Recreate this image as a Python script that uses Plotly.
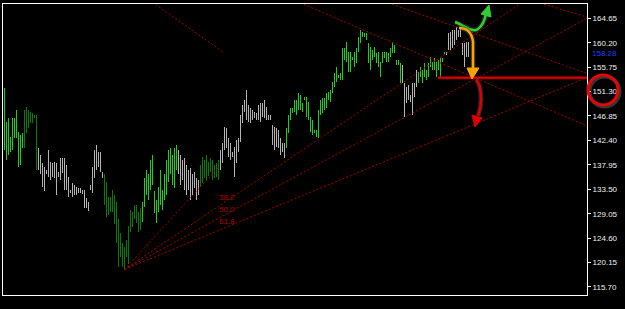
import plotly.graph_objects as go

# ---------------- data ----------------
bar_high = [
    152.0, 145.8, 146.5, 143.1, 146.5, 146.5, 148.0, 144.0, 143.4, 143.8,
    148.0, 148.5, 148.0, 147.6, 147.4, 147.1, 147.1, 141.1, 139.8, 138.3,
    137.6, 137.1, 140.7, 138.5, 138.3, 138.5, 138.3, 136.7, 139.2, 139.2,
    139.2, 138.0, 135.8, 133.4, 134.7, 134.3, 134.0, 133.8, 133.8, 133.4,
    133.4, 132.0, 131.1, 134.3, 137.6, 140.7, 141.6, 140.2, 140.2, 136.7,
    136.2, 134.9, 132.1, 132.1, 133.4, 132.5, 131.1, 128.0, 125.6, 123.8,
    123.0, 124.3, 126.9, 129.8, 129.4, 130.7, 130.7, 129.4, 130.1, 131.1,
    135.6, 137.1, 136.2, 138.9, 139.8, 133.1, 131.6, 134.0, 137.1, 133.4,
    136.2, 138.9, 140.7, 141.1, 139.8, 141.1, 141.6, 140.7, 139.8, 138.9,
    139.2, 138.0, 137.1, 137.4, 136.2, 136.7, 135.6, 135.2, 138.0, 139.4,
    138.9, 139.8, 138.5, 139.2, 138.9, 138.0, 138.3, 138.9, 140.7, 142.0,
    144.9, 144.7, 142.9, 142.0, 140.3, 141.2, 142.5, 142.9, 147.1, 148.9,
    149.8, 151.6, 148.9, 148.3, 148.0, 147.6, 147.4, 148.9, 149.3, 149.3,
    149.8, 148.5, 147.1, 147.1, 145.3, 144.9, 144.7, 144.3, 142.9, 142.0,
    142.0, 144.7, 147.1, 148.3, 148.3, 149.8, 149.8, 151.1, 150.7, 149.3,
    150.3, 150.3, 149.4, 146.7, 146.2, 144.3, 144.3, 148.0, 149.8, 150.2,
    150.2, 151.1, 151.3, 151.6, 153.1, 154.7, 155.8, 154.4, 154.7, 159.3,
    159.3, 160.4, 158.5, 158.5, 157.6, 158.5, 159.3, 161.3, 162.5, 162.2,
    162.0, 162.0, 160.2, 159.4, 158.9, 159.4, 158.4, 158.5, 156.7, 158.5,
    158.5, 158.5, 158.4, 159.3, 160.4, 159.8, 157.1, 157.1, 156.5, 156.2,
    152.9, 152.2, 152.5, 150.7, 152.9, 152.9, 155.3, 154.9, 155.8, 155.3,
    156.5, 155.3, 156.5, 157.6, 156.7, 157.4, 156.7, 157.1, 157.4, 157.4,
    158.5, 158.5, 162.0, 162.2, 162.5, 162.5, 163.1, 162.5, 162.9, 160.2,
    160.2, 160.4, 160.4,
]
bar_low = [
    140.7, 138.9, 139.8, 140.3, 140.7, 142.9, 142.9, 137.6, 138.0, 141.1,
    141.1, 143.8, 144.7, 145.6, 145.6, 146.5, 137.1, 137.1, 136.2, 134.0,
    133.1, 136.2, 135.8, 135.2, 135.8, 135.6, 132.5, 135.8, 135.2, 136.5,
    133.4, 133.4, 132.1, 132.9, 132.1, 132.5, 132.5, 132.9, 132.9, 132.7,
    130.1, 130.1, 129.6, 133.4, 132.9, 135.6, 137.1, 137.6, 136.7, 135.6,
    130.7, 128.5, 128.9, 129.4, 129.4, 127.1, 123.8, 119.4, 121.2, 119.4,
    118.9, 121.2, 119.8, 125.8, 126.7, 128.0, 127.4, 125.8, 126.1, 127.6,
    130.3, 132.5, 131.6, 133.4, 134.3, 129.2, 127.4, 129.4, 130.7, 129.8,
    131.6, 132.5, 134.9, 136.2, 134.3, 133.8, 137.1, 136.2, 134.3, 135.2,
    133.4, 132.5, 133.4, 131.6, 132.5, 133.8, 131.6, 132.5, 134.0, 134.7,
    135.6, 135.2, 136.0, 136.7, 135.2, 135.6, 135.8, 135.2, 137.1, 138.3,
    140.7, 141.1, 139.4, 138.9, 139.4, 135.8, 138.3, 140.3, 142.2, 145.6,
    147.6, 146.2, 145.8, 145.6, 146.2, 146.5, 146.2, 146.2, 145.8, 146.7,
    146.5, 146.2, 146.2, 146.2, 141.6, 140.7, 141.2, 141.1, 139.8, 140.2,
    139.2, 141.1, 143.8, 146.2, 147.4, 147.6, 147.1, 148.0, 148.0, 147.6,
    149.8, 146.7, 146.2, 144.0, 143.4, 143.8, 143.1, 142.9, 147.1, 147.4,
    148.0, 148.3, 149.8, 149.4, 151.1, 152.2, 153.1, 153.8, 153.4, 153.4,
    157.1, 156.7, 154.9, 154.9, 157.1, 155.8, 156.5, 158.5, 160.2, 161.3,
    161.3, 160.7, 156.5, 155.3, 157.1, 157.6, 156.5, 155.8, 154.0, 156.5,
    157.4, 156.7, 156.7, 157.6, 158.4, 158.4, 156.2, 156.2, 152.9, 152.9,
    146.7, 149.3, 149.8, 149.4, 147.1, 150.3, 152.2, 152.9, 154.0, 152.9,
    154.0, 153.4, 154.0, 155.8, 155.3, 155.3, 154.0, 155.3, 154.0, 156.7,
    158.0, 158.0, 158.9, 158.9, 159.3, 159.8, 160.7, 161.3, 161.3, 158.0,
    155.8, 157.6, 157.6,
]
bar_index = list(range(len(bar_high)))

price_ticks = [115.70, 120.15, 124.60, 129.05, 133.50, 137.95,
               142.40, 146.85, 151.30, 155.75, 160.20, 164.65]
price_tick_labels = ["115.70", "120.15", "124.60", "129.05", "133.50", "137.95",
                     "142.40", "146.85", "151.30", "155.75", "160.20", "164.65"]
last_price = 158.28
marked_price = 151.30

fan_origin = (60, 118.9)      # swing low (bar, price)
fan_anchor = (107, 137.5)     # fan anchor (bar, price)
fib_ratios = [0.382, 0.5, 0.618]
fib_labels = ["38.2", "50.0", "61.8"]

level_price = 153.8
level_start = 217

trend_lines = [
    ((146, 167.74), (292, 144.93)),
    ((192, 167.45), (292, 154.5)),
    ((266, 167.6), (292, 164.8)),
    ((74, 167.57), (109.25, 158.5)),
]

# ---------------- styles ----------------
GREEN = "#1fcc1f"
DARK = "#0b780b"
GRAY = "#b4b4b4"
FAN = "#a80000"
color_runs = [(0, 9, GREEN), (10, 16, DARK), (17, 49, GRAY), (50, 68, DARK),
              (69, 86, GREEN), (87, 97, GRAY), (98, 107, DARK), (108, 140, GRAY),
              (141, 198, GREEN), (199, 206, GRAY), (207, 220, GREEN), (221, 232, GRAY)]
bar_colors = [GRAY] * len(bar_index)
for a, b, c in color_runs:
    for i in range(a, b + 1):
        bar_colors[i] = c

W, H = 625, 309
ML, MR, MT, MB = 3, 38, 4, 14
XR = [-0.75, 291.25]
YR = [114.24, 167.25]
plot_w = W - ML - MR
plot_h = H - MT - MB

fig = go.Figure()

fig.add_trace(go.Bar(
    x=bar_index,
    y=[h - l for h, l in zip(bar_high, bar_low)],
    base=bar_low,
    width=0.5,
    marker=dict(color=bar_colors, line=dict(width=0)),
    hoverinfo="skip",
))

dot = dict(color=FAN, width=1, dash="2px,2px")

# fan lines
ox, oy = fan_origin
fx, fy = fan_anchor
x_far = 300
fig.add_trace(go.Scatter(x=[ox, fx], y=[oy, fy], mode="lines", line=dot, hoverinfo="skip"))
for r, lab in zip(fib_ratios, fib_labels):
    ty = fy - r * (fy - oy)
    slope = (ty - oy) / (fx - ox)
    fig.add_trace(go.Scatter(x=[ox, x_far], y=[oy, oy + slope * (x_far - ox)],
                             mode="lines", line=dot, hoverinfo="skip"))
    fig.add_annotation(x=fx, y=ty, xref="x", yref="y", text=lab, showarrow=False,
                       xanchor="left", yanchor="middle", xshift=-2, yshift=9,
                       font=dict(family="Liberation Sans, Arial", size=8, color="#b00000"))

for (x0, y0), (x1, y1) in trend_lines:
    fig.add_trace(go.Scatter(x=[x0, x1], y=[y0, y1], mode="lines", line=dot, hoverinfo="skip"))

# horizontal level line
fig.add_trace(go.Scatter(x=[level_start - 0.25, 292], y=[level_price, level_price], mode="lines",
                         line=dict(color="rgba(150,0,0,0.45)", width=4), hoverinfo="skip"))
fig.add_trace(go.Scatter(x=[level_start - 0.25, 292], y=[level_price, level_price], mode="lines",
                         line=dict(color="#d80000", width=2), hoverinfo="skip"))

# hand drawn arrows (data coordinates)
green_path = "M225.25,163.97 C230.25,163.24 234.25,161.97 236.75,162.70 C238.75,163.24 240.25,164.52 240.75,165.43"
green_head = "M238.25,165.43 L242.25,167.07 L243.25,164.88 Z"
orange_path = "M227.25,162.88 C230.75,162.88 233.75,162.15 234.25,160.33 L234.25,155.59"
orange_head = "M231.25,155.59 L233.75,153.59 L237.25,155.59 Z"
red_path = "M235.75,153.41 C237.75,152.86 238.25,151.59 238.25,149.77 C238.25,148.31 237.25,147.40 236.75,146.85"
red_head = "M233.75,147.03 L235.25,144.85 L238.75,146.49 Z"

shapes = []
for p, col in [(green_path, "#2fcf2f"), (orange_path, "#ffa200"), (red_path, "#dd0000")]:
    shapes.append(dict(type="path", xref="x", yref="y", path=p,
                       line=dict(color="rgba(70,70,70,0.5)", width=5)))
    shapes.append(dict(type="path", xref="x", yref="y", path=p,
                       line=dict(color=col, width=2.5)))
for p, col in [(green_head, "#2fcf2f"), (orange_head, "#ffa200"), (red_head, "#dd0000")]:
    shapes.append(dict(type="path", xref="x", yref="y", path=p,
                       fillcolor=col, line=dict(color=col, width=1)))

# circle around marked price label
cy = (marked_price + 0.3 - YR[0]) / (YR[1] - YR[0])
cx = 1 + 16 / plot_w
rx = 15 / plot_w
ry = 15 / plot_h
shapes.append(dict(type="circle", xref="paper", yref="paper",
                   x0=cx - rx + 1.5 / plot_w, x1=cx + rx + 1.5 / plot_w,
                   y0=cy - ry - 1.5 / plot_h, y1=cy + ry - 1.5 / plot_h,
                   line=dict(color="rgba(120,120,120,0.45)", width=4)))
shapes.append(dict(type="circle", xref="paper", yref="paper",
                   x0=cx - rx, x1=cx + rx, y0=cy - ry, y1=cy + ry,
                   line=dict(color="#f00000", width=3)))

fig.add_annotation(x=1, xref="paper", y=last_price, yref="y", text=f"{last_price:.2f}",
                   showarrow=False, xanchor="left", yanchor="middle", xshift=3,
                   font=dict(family="Liberation Sans, Arial", size=8, color="#1c3cff"))

fig.update_layout(
    width=W, height=H,
    margin=dict(l=ML, r=MR, t=MT, b=MB, pad=0),
    paper_bgcolor="black", plot_bgcolor="black",
    showlegend=False,
    bargap=0,
    shapes=shapes,
    xaxis=dict(range=XR, showgrid=False, zeroline=False, showticklabels=False, ticks="",
               showline=True, linecolor="white", linewidth=1, mirror=True, fixedrange=True),
    yaxis=dict(range=YR, side="right", showgrid=False, zeroline=False,
               tickvals=price_ticks, ticktext=price_tick_labels,
               ticks="outside", ticklen=3, tickwidth=1, tickcolor="white",
               tickfont=dict(family="Liberation Sans, Arial", size=8, color="#f0f0f0"),
               showline=True, linecolor="white", linewidth=1, mirror=True, fixedrange=True),
)

fig.write_html("out.html")
